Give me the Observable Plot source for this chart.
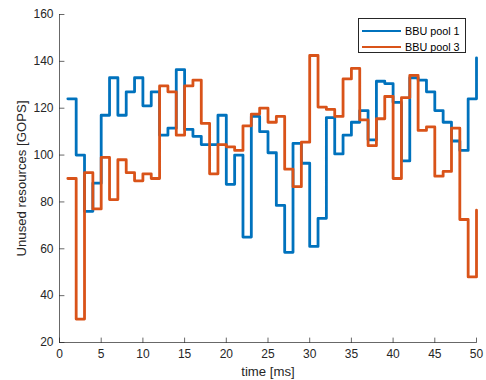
<!DOCTYPE html>
<html>
<head>
<meta charset="utf-8">
<script src="https://cdn.jsdelivr.net/npm/d3@7"></script>
<script src="https://cdn.jsdelivr.net/npm/@observablehq/plot@0.6"></script>
<style>
  body { margin: 0; background: #fff; }
  #chart { position: relative; width: 486px; height: 380px; font-family: "Liberation Sans", Arial, Helvetica, sans-serif; }
  .legend { position: absolute; left: 358px; top: 18px; width: 108px; height: 35px; box-sizing: border-box;
            border: 0.8px solid #262626; background: #fff; font-size: 10.8px; color: #000; }
  .legend .row { position: absolute; left: 0; height: 14px; line-height: 14px; display: flex; align-items: center; white-space: nowrap; }
  .legend .swatch { width: 39px; height: 2.8px; margin-left: 3px; margin-right: 4px; }
</style>
</head>
<body>
<div id="chart"></div>
<script>
// Sample times (ms)
const timeMs = [1, 2, 3, 4, 5, 6, 7, 8, 9, 10, 11, 12, 13, 14, 15, 16, 17, 18, 19, 20,
                21, 22, 23, 24, 25, 26, 27, 28, 29, 30, 31, 32, 33, 34, 35, 36, 37, 38, 39, 40,
                41, 42, 43, 44, 45, 46, 47, 48, 49, 50];

// Unused resources per BBU pool (GOPS)
const pool1 = [124, 100, 76, 88, 117, 133, 117, 127, 133, 121,
               127, 108.5, 111.5, 136.5, 111, 108, 104.5, 104.5, 117, 87.5,
               100, 65, 116.5, 110, 101, 78.5, 58.5, 105, 96.5, 61,
               73, 116, 100.5, 108.5, 114, 119, 106.5, 131.5, 130.5, 122.5,
               97.5, 133, 132, 127, 119, 114, 106, 102, 124, 141.5];
const pool3 = [90, 30, 92.5, 77, 99, 81, 98, 92.5, 89, 92,
               90, 129.5, 127, 108.5, 129.5, 132, 113.5, 92, 104.5, 103.5,
               102, 112.5, 117.5, 120, 114, 116.5, 94, 86.5, 105.5, 142.5,
               120.5, 119.5, 116.5, 132.5, 137, 115, 104, 115.5, 125, 90,
               124.5, 134, 110.5, 112, 91, 93, 111.5, 72.5, 48, 76.5];

const seriesNames = ["BBU pool 1", "BBU pool 3"];
const seriesColors = ["#0072BD", "#D95319"];

const xDomain = [0, 50];
const yDomain = [20, 160];
const xTicks = [0, 5, 10, 15, 20, 25, 30, 35, 40, 45, 50];
const yTicks = [20, 40, 60, 80, 100, 120, 140, 160];

const xLabel = "time [ms]";
const yLabel = "Unused resources [GOPS]";

const rows = [pool1, pool3].flatMap((vals, s) =>
  timeMs.map((t, i) => ({t, v: vals[i], name: seriesNames[s]})));

// Short straight tick pointing into the plot area
const tickShape = {
  draw(context, l) { context.moveTo(0, 0); context.lineTo(0, -l); }
};
const axisColor = "#262626";

const chart = Plot.plot({
  width: 486,
  height: 380,
  marginLeft: 59,
  marginRight: 10,
  marginTop: 14,
  marginBottom: 38,
  style: {fontFamily: '"Liberation Sans", Arial, Helvetica, sans-serif', fontSize: "12px", color: axisColor, background: "white"},
  x: {domain: xDomain, label: null},
  y: {domain: yDomain, label: null},
  color: {domain: seriesNames, range: seriesColors},
  marks: [
    Plot.line(rows, {x: "t", y: "v", z: "name", stroke: "name", curve: "step-after", strokeWidth: 2.8}),
    Plot.ruleY([yDomain[0]], {stroke: axisColor, strokeWidth: 0.7}),
    Plot.ruleX([xDomain[0]], {stroke: axisColor, strokeWidth: 0.7}),
    Plot.vector(xTicks, {x: d => d, frameAnchor: "bottom", length: 4.5, rotate: 0, anchor: "start",
                         shape: tickShape, stroke: axisColor, strokeWidth: 0.7}),
    Plot.vector(yTicks, {y: d => d, frameAnchor: "left", length: 4.5, rotate: 90, anchor: "start",
                         shape: tickShape, stroke: axisColor, strokeWidth: 0.7}),
    Plot.axisX(xTicks, {tickSize: 0, tickPadding: 7, fontSize: 12, fill: axisColor, label: null}),
    Plot.axisY(yTicks, {tickSize: 0, tickPadding: 6, fontSize: 12, fill: axisColor, label: null}),
    Plot.text([xLabel], {frameAnchor: "bottom", dy: 29, lineAnchor: "middle", textAnchor: "middle",
                         fontSize: 13.2, fill: axisColor}),
    Plot.text([yLabel], {frameAnchor: "left", dx: -38, rotate: -90, lineAnchor: "middle", textAnchor: "middle",
                         fontSize: 13.2, fill: axisColor})
  ]
});

const host = document.getElementById("chart");
host.appendChild(chart);

// Legend box in the upper right corner of the axes
const legend = document.createElement("div");
legend.className = "legend";
seriesNames.forEach((name, i) => {
  const row = document.createElement("div");
  row.className = "row";
  row.style.top = (5 + i * 16) + "px";
  const sw = document.createElement("span");
  sw.className = "swatch";
  sw.style.background = seriesColors[i];
  const label = document.createElement("span");
  label.textContent = name;
  row.appendChild(sw);
  row.appendChild(label);
  legend.appendChild(row);
});
host.appendChild(legend);
</script>
</body>
</html>
